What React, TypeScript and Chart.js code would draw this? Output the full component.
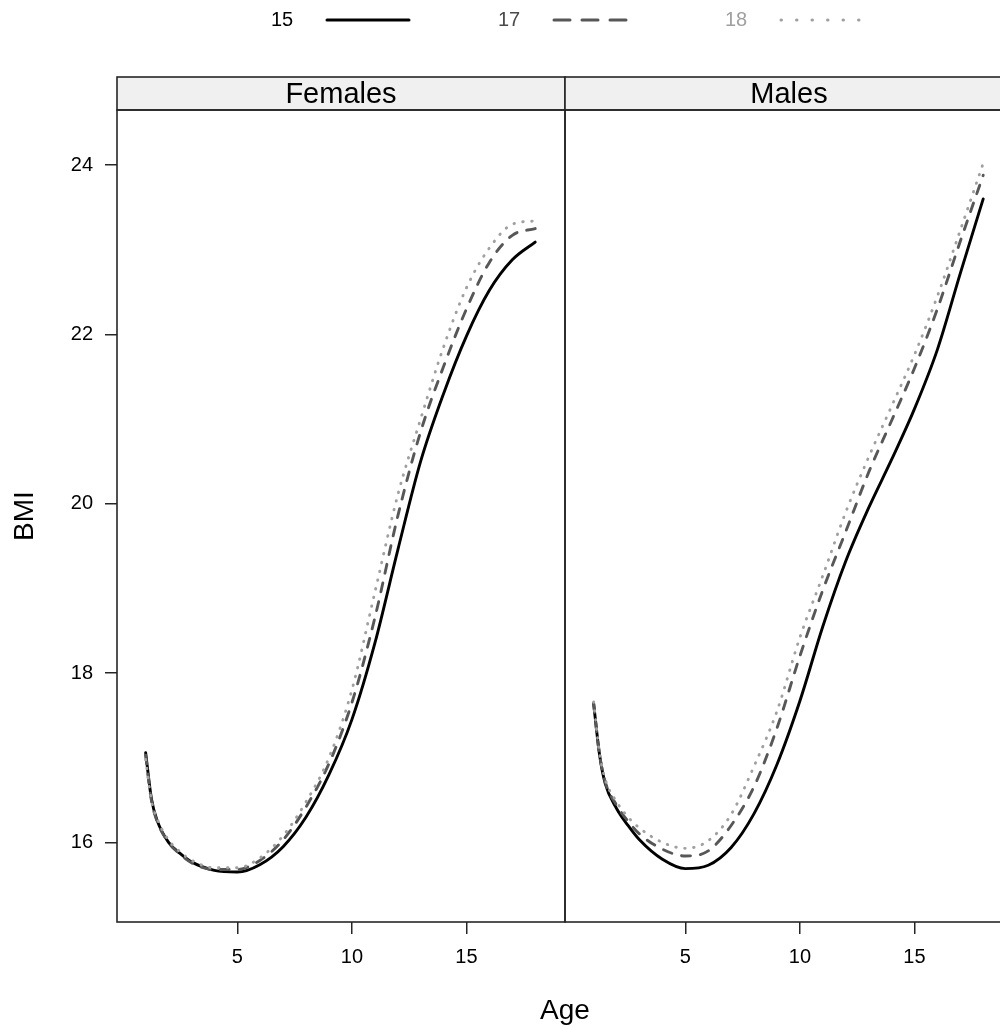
import React, { useEffect, useRef } from 'react';
import { Chart, registerables } from 'chart.js';

Chart.register(...registerables);

// ---- data ----
const ages = [1, 1.25, 1.5, 2, 2.5, 3, 4, 5, 6, 7, 8, 9, 10, 11, 12, 13, 14, 15, 16, 17, 18];

const femalesBmi15 = [17.06, 16.52, 16.26, 16.0, 15.87, 15.77, 15.67, 15.65, 15.74, 15.95, 16.3, 16.8, 17.45, 18.35, 19.45, 20.5, 21.3, 21.98, 22.52, 22.88, 23.09];
const femalesBmi17 = [17.03, 16.5, 16.25, 16.0, 15.86, 15.76, 15.68, 15.68, 15.79, 16.03, 16.42, 16.93, 17.65, 18.65, 19.85, 20.85, 21.62, 22.3, 22.85, 23.17, 23.25];
const femalesBmi18 = [16.98, 16.5, 16.28, 16.03, 15.89, 15.79, 15.7, 15.7, 15.82, 16.08, 16.48, 17.0, 17.8, 18.95, 20.1, 21.0, 21.85, 22.55, 23.02, 23.3, 23.34];

const malesBmi15 = [17.64, 17.05, 16.7, 16.4, 16.2, 16.03, 15.8, 15.69, 15.73, 15.94, 16.34, 16.92, 17.67, 18.55, 19.32, 19.95, 20.52, 21.12, 21.82, 22.72, 23.6];
const malesBmi17 = [17.64, 17.05, 16.72, 16.44, 16.25, 16.1, 15.92, 15.84, 15.9, 16.2, 16.66, 17.35, 18.2, 18.98, 19.67, 20.37, 20.98, 21.6, 22.3, 23.1, 23.88];
const malesBmi18 = [17.66, 17.07, 16.75, 16.48, 16.3, 16.17, 16.0, 15.93, 16.02, 16.33, 16.9, 17.55, 18.42, 19.15, 19.9, 20.55, 21.15, 21.76, 22.45, 23.23, 24.02];

const panelNames = ['Females', 'Males'];
const groupLabels = ['15', '17', '18'];
const xTickValues = [5, 10, 15];
const yTickValues = [16, 18, 20, 22, 24];
const xTitle = 'Age';
const yTitle = 'BMI';

// ---- styles ----
const FONT = '"Liberation Sans", Arial, Helvetica, sans-serif';
const lineColors = ['#000000', '#575757', '#a0a0a0'];
const textColors = ['#000000', '#4a4a4a', '#a0a0a0'];
const dashes = [[], [9, 10], [0.5, 8.5]];
const frameColor = '#262626';

const panelSeries = [
  [femalesBmi15, femalesBmi17, femalesBmi18],
  [malesBmi15, malesBmi17, malesBmi18],
];

const latticePlugin = {
  id: 'lattice',
  afterDraw(chart: any) {
    const ctx = chart.ctx;
    const { top, bottom, left, right } = chart.chartArea;
    const scales = [chart.scales.x1, chart.scales.x2];
    const stripH = 33;
    ctx.save();
    scales.forEach((s: any, i: number) => {
      ctx.fillStyle = '#f0f0f0';
      ctx.fillRect(s.left, top - stripH, s.right - s.left, stripH);
      ctx.strokeStyle = frameColor;
      ctx.lineWidth = 1.6;
      ctx.strokeRect(s.left, top - stripH, s.right - s.left, stripH);
      ctx.strokeRect(s.left, top, s.right - s.left, bottom - top);
      ctx.fillStyle = '#000';
      ctx.font = `29px ${FONT}`;
      ctx.textAlign = 'center';
      ctx.textBaseline = 'middle';
      ctx.fillText(panelNames[i], (s.left + s.right) / 2, top - stripH / 2 + 1);
    });
    // x title
    ctx.fillStyle = '#000';
    ctx.font = `28px ${FONT}`;
    ctx.textAlign = 'center';
    ctx.textBaseline = 'middle';
    ctx.fillText(xTitle, (left + right) / 2, 1011);
    // legend
    const cx = (left + right) / 2;
    const ly = 20;
    groupLabels.forEach((lab, i) => {
      const tx = cx - 283 + i * 227;
      ctx.fillStyle = textColors[i];
      ctx.font = `20px ${FONT}`;
      ctx.textAlign = 'center';
      ctx.textBaseline = 'middle';
      ctx.fillText(lab, tx, ly);
      ctx.strokeStyle = lineColors[i];
      ctx.lineWidth = 3;
      ctx.lineCap = 'round';
      ctx.setLineDash(i === 0 ? [] : i === 1 ? [16, 12] : [0.5, 15]);
      ctx.beginPath();
      ctx.moveTo(tx + 45, ly);
      ctx.lineTo(tx + 127, ly);
      ctx.stroke();
      ctx.setLineDash([]);
    });
    ctx.restore();
  },
};

export default function App() {
  const canvasRef = useRef<HTMLCanvasElement | null>(null);

  useEffect(() => {
    const canvas = canvasRef.current;
    if (!canvas) return;
    Chart.defaults.font.family = FONT;

    const datasets: any[] = [];
    panelSeries.forEach((series, p) => {
      series.forEach((vals, g) => {
        datasets.push({
          label: `${panelNames[p]} ${groupLabels[g]}`,
          data: ages.map((a, k) => ({ x: a, y: vals[k] })),
          xAxisID: p === 0 ? 'x1' : 'x2',
          yAxisID: 'y',
          borderColor: lineColors[g],
          borderWidth: 2.9,
          borderDash: dashes[g],
          borderCapStyle: 'round',
          borderJoinStyle: 'round',
          pointRadius: 0,
          fill: false,
          cubicInterpolationMode: 'monotone',
          order: 3 - g,
        });
      });
    });

    const xAxis = () => ({
      type: 'linear',
      position: 'bottom',
      stack: 'panels',
      stackWeight: 1,
      min: -0.25,
      max: 19.3,
      afterBuildTicks: (s: any) => {
        s.ticks = xTickValues.map((v) => ({ value: v }));
      },
      afterFit: (s: any) => {
        s.height = 105;
      },
      grid: {
        drawOnChartArea: false,
        drawTicks: true,
        tickLength: 12,
        color: frameColor,
        lineWidth: 1.5,
      },
      border: { display: false },
      ticks: {
        color: '#000',
        font: { size: 20, family: FONT },
        padding: 11,
        maxRotation: 0,
        autoSkip: false,
      },
    });

    const chart = new Chart(canvas, {
      type: 'line',
      data: { datasets },
      options: {
        responsive: false,
        animation: false,
        layout: { padding: { left: 0, top: 110, right: 27, bottom: 0 } },
        plugins: {
          legend: { display: false },
          tooltip: { enabled: false },
        },
        scales: {
          x1: xAxis() as any,
          x2: xAxis() as any,
          y: {
            type: 'linear',
            position: 'left',
            min: 15.06,
            max: 24.65,
            afterBuildTicks: (s: any) => {
              s.ticks = yTickValues.map((v) => ({ value: v }));
            },
            afterFit: (s: any) => {
              s.width = 117;
            },
            title: {
              display: true,
              text: yTitle,
              color: '#000',
              font: { size: 28, family: FONT },
              padding: { top: 8, bottom: 0 },
            },
            grid: {
              drawOnChartArea: false,
              drawTicks: true,
              tickLength: 12,
              color: frameColor,
              lineWidth: 1.5,
            },
            border: { display: false },
            ticks: {
              color: '#000',
              font: { size: 20, family: FONT },
              padding: 12,
              autoSkip: false,
            },
          },
        },
      },
      plugins: [latticePlugin],
    } as any);

    return () => {
      chart.destroy();
    };
  }, []);

  return (
    <div
      style={{
        position: 'absolute',
        left: 0,
        top: 0,
        width: 1000,
        height: 1027,
        overflow: 'hidden',
      }}
    >
      <canvas ref={canvasRef} width={1040} height={1027} style={{ display: 'block' }} />
    </div>
  );
}
